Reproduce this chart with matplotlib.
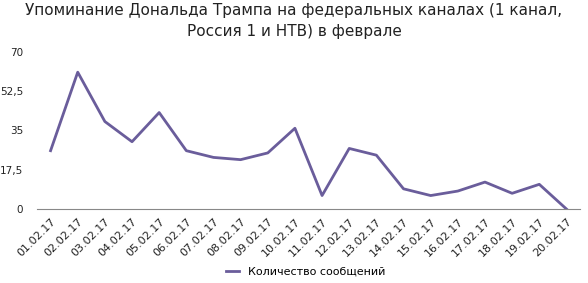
import numpy as np
import matplotlib.pyplot as plt

dates = ['01.02.17', '02.02.17', '03.02.17', '04.02.17', '05.02.17',
         '06.02.17', '07.02.17', '08.02.17', '09.02.17', '10.02.17',
         '11.02.17', '12.02.17', '13.02.17', '14.02.17', '15.02.17',
         '16.02.17', '17.02.17', '18.02.17', '19.02.17', '20.02.17']
counts = [26, 61, 39, 30, 43, 26, 23, 22, 25, 36,
          6, 27, 24, 9, 6, 8, 12, 7, 11, 0]
yticks = [0, 17.5, 35, 52.5, 70]
ytick_labels = ['0', '17,5', '35', '52,5', '70']

fig = plt.figure(figsize=(5.88, 2.83), dpi=100)
ax = fig.add_axes([37 / 588, 1 - 209 / 283, 543 / 588, 157 / 283])

x = np.arange(len(dates))
ax.plot(x, counts, color='#6a5d9b', linewidth=2, label='Количество сообщений')

ax.set_xlim(-0.5, len(dates) - 0.5)
ax.set_ylim(0, 70)
ax.set_yticks(yticks)
ax.set_yticklabels(ytick_labels)
ax.set_xticks(x)
ax.set_xticklabels(dates, rotation=45, ha='right', rotation_mode='anchor')
ax.tick_params(length=0, labelsize=8, colors='#222222')
ax.tick_params(axis='y', pad=10, labelsize=7.5)
ax.tick_params(axis='x', pad=5)
for s in ['top', 'right', 'left']:
    ax.spines[s].set_visible(False)
ax.spines['bottom'].set_color('#888888')

fig.suptitle('Упоминание Дональда Трампа на федеральных каналах (1 канал,\nРоссия 1 и НТВ) в феврале',
             y=0.99, fontsize=11, color='#222222', linespacing=1.5)
fig.legend(loc='center', bbox_to_anchor=(0.52, 1 - 272 / 283), frameon=False,
           fontsize=8, handlelength=1.2)

fig.savefig('out.png', dpi=100)
